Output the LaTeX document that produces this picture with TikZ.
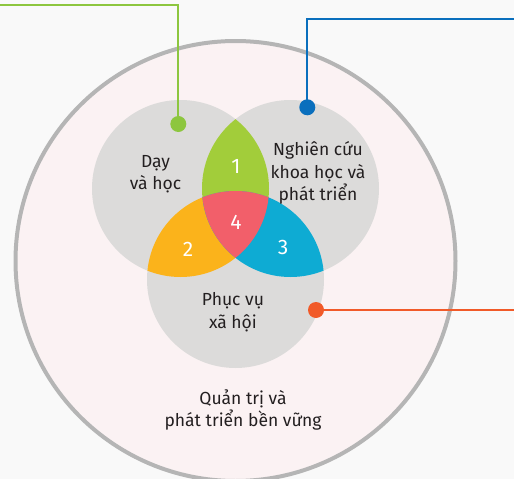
\documentclass[tikz,border=0pt]{standalone}
\usepackage{fontspec}
\setmainfont{Fira Sans}
\definecolor{bgc}{HTML}{F9F9F9}
\definecolor{outerfill}{HTML}{FBF2F3}
\definecolor{outerline}{HTML}{B5B5B5}
\definecolor{setgray}{HTML}{DCDBDA}
\definecolor{cgreen}{HTML}{A2CD3A}
\definecolor{corange}{HTML}{FBB31B}
\definecolor{cblue}{HTML}{0EABD3}
\definecolor{cred}{HTML}{F25F6A}
\definecolor{lgreen}{HTML}{8DC63F}
\definecolor{lblue}{HTML}{0A6FBD}
\definecolor{lorange}{HTML}{F15A29}
\definecolor{txt}{HTML}{231F20}
\begin{document}
\begin{tikzpicture}[x=1pt,y=-1pt,
  lbl/.style={text=txt,align=center,font=\fontsize{17.5}{22.5}\selectfont,inner sep=0pt},
  num/.style={text=white,font=\fontsize{21}{24}\selectfont,inner sep=0pt},
  dotn/.style={circle,minimum size=16pt,inner sep=0pt},
  conn/.style={line width=2pt}]
\clip (0,0) rectangle (514,479);
\fill[bgc] (0,0) rectangle (514,479);
% outer circle
\draw[outerline,fill=outerfill,line width=4pt] (235.5,261) circle (220);
% three sets
\def\cA{(180.5,188.5) circle (88.5)}
\def\cB{(290.5,188.5) circle (88.5)}
\def\cC{(235.5,279.5) circle (88.5)}
\fill[setgray] \cA;
\fill[setgray] \cB;
\fill[setgray] \cC;
\begin{scope}\clip \cA; \fill[cgreen] \cB; \end{scope}
\begin{scope}\clip \cA; \fill[corange] \cC; \end{scope}
\begin{scope}\clip \cB; \fill[cblue] \cC; \end{scope}
\begin{scope}\clip \cA; \clip \cB; \fill[cred] \cC; \end{scope}
% numbers
\node[num] (n1) at (236,166) {1};
\node[num] (n4) at (236,222) {4};
\node[num] (n2) at (188,249) {2};
\node[num] (n3) at (283,247) {3};
% labels
\node[lbl] (day) at (155.5,174) {Dạy\\và học};
\node[lbl] (ncuu) at (318,173) {Nghiên cứu\\khoa học và\\phát triển};
\node[lbl] (pvu) at (233,312) {Phục vụ\\xã hội};
\node[lbl] (qtri) at (243,410) {Quản trị và\\phát triển bền vững};
% connectors
\node[dotn,fill=lgreen] (dg) at (178.3,124) {};
\node[dotn,fill=lblue] (db) at (307.3,107.3) {};
\node[dotn,fill=lorange] (do) at (316,310) {};
\coordinate (g1) at (178.3,5);
\coordinate (g2) at (-2,5);
\coordinate (b1) at (307.3,19);
\coordinate (b2) at (516,19);
\coordinate (o1) at (516,310);
\draw[conn,lgreen] (dg.center) -- (g1) -- (g2);
\draw[conn,lblue] (db.center) -- (b1) -- (b2);
\draw[conn,lorange] (do.center) -- (o1);
\end{tikzpicture}
\end{document}
